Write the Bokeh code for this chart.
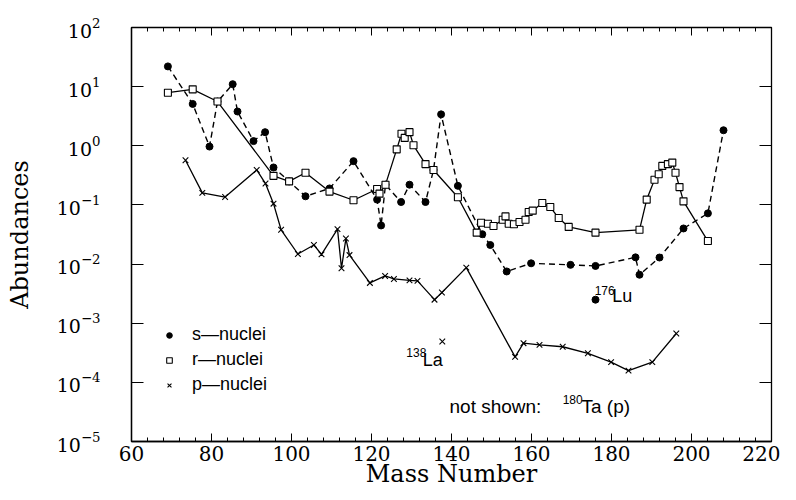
from bokeh.plotting import figure
from bokeh.models import (LinearAxis, LogAxis, Legend, LegendItem, Label,
                          FixedTicker, ColumnDataSource, CustomJSTickFormatter)
from bokeh.embed import file_html
from bokeh.resources import INLINE

# ---- data ----
s_mass = [69.1, 75.3, 79.5, 81.5, 85.3, 86.5, 90.5, 93.4, 95.5, 99.4, 103.5, 109.5,
          115.5, 121.4, 122.4, 123.5, 127.4, 129.5, 133.5, 135.5, 137.4, 141.6,
          147.7, 149.7, 153.8, 159.9, 169.75, 176, 186, 187, 192, 198, 204.1, 208]
s_abund = [22, 5.1, 0.97, 5.6, 11, 3.8, 1.2, 1.7, 0.43, 0.25, 0.14, 0.19,
           0.55, 0.123, 0.045, 0.22, 0.112, 0.22, 0.112, 0.39, 3.4, 0.21,
           0.032, 0.021, 0.0075, 0.0103, 0.0097, 0.0093, 0.013, 0.0066, 0.0129,
           0.04, 0.072, 1.83]

r_mass = [69.1, 75.3, 81.5, 95.5, 99.4, 103.5, 109.5, 115.5, 121.4, 122, 123.5,
          126.3, 127.5, 128.3, 129.5, 130.5, 133.5, 135.5, 141.6, 146.3, 147.4,
          149.1, 150.5, 152.8, 153.5, 154.3, 155.6, 157, 158.5, 159.3, 160.3,
          162.7, 164.7, 166.8, 169.3, 176, 187, 188.8, 190.75, 191.8, 192.7,
          194.1, 195.2, 196, 197, 198, 204.1]
r_abund = [7.9, 9.0, 5.6, 0.31, 0.25, 0.35, 0.168, 0.12, 0.186, 0.155, 0.22,
           0.87, 1.6, 1.36, 1.7, 1.02, 0.49, 0.39, 0.135, 0.034, 0.05,
           0.048, 0.044, 0.056, 0.064, 0.048, 0.047, 0.0515, 0.056, 0.076, 0.08,
           0.108, 0.092, 0.06, 0.0425, 0.034, 0.038, 0.123, 0.267, 0.33, 0.457,
           0.49, 0.52, 0.35, 0.2, 0.115, 0.0245]

p_mass = [73.5, 77.7, 83.4, 91.3, 93.5, 95.5, 97.4, 101.6, 105.6, 107.5, 111.5,
          112.5, 113.6, 114.5, 119.6, 123.4, 125.6, 129.5, 131.5, 135.75, 137.6,
          143.7, 155.9, 158, 162, 167.8, 174.1, 179.9, 184.25, 190.2, 196.2]
p_abund = [0.57, 0.16, 0.136, 0.39, 0.23, 0.105, 0.038, 0.0148, 0.021, 0.0146, 0.039,
           0.0085, 0.027, 0.0142, 0.0048, 0.0063, 0.0056, 0.0053, 0.0052, 0.0025, 0.0033,
           0.0087, 0.00027, 0.00046, 0.00043, 0.0004, 0.00031, 0.00022, 0.000158,
           0.00022, 0.00067]

lu_mass = [176]
lu_abund = [0.0025]
la_mass = [137.7]
la_abund = [0.00049]

x_ticks = [60, 80, 100, 120, 140, 160, 180, 200, 220]
x_minor = list(range(60, 221, 4))
y_ticks = [1e-5, 1e-4, 1e-3, 1e-2, 1e-1, 1e0, 1e1, 1e2]

legend_labels = ["s\u2014nuclei", "r\u2014nuclei", "p\u2014nuclei"]

SERIF = "DejaVu Serif"
SANS = "Liberation Sans"

p = figure(width=780, height=490, x_range=(60, 220), y_range=(1e-5, 1e2),
           y_axis_type="log", output_backend="svg", toolbar_location=None,
           min_border_left=131, min_border_right=9, min_border_top=27,
           min_border_bottom=44)
p.grid.visible = False
p.outline_line_color = "black"
p.outline_line_width = 1.3
p.background_fill_color = "white"
p.border_fill_color = "white"

# bottom axis
xa = p.xaxis[0]
xa.ticker = FixedTicker(ticks=x_ticks, minor_ticks=x_minor)
xa.major_tick_in = 8
xa.major_tick_out = 0
xa.minor_tick_in = 4
xa.minor_tick_out = 0
xa.major_label_text_font = SERIF
xa.major_label_text_font_size = "20px"
xa.major_label_text_color = "black"
xa.major_label_standoff = 4
xa.axis_label = "Mass Number"
xa.axis_label_text_font = SERIF
xa.axis_label_text_font_size = "24px"
xa.axis_label_text_color = "black"
xa.axis_label_text_font_style = "normal"
xa.axis_label_standoff = -4
xa.axis_line_width = 1.3

ya = p.yaxis[0]
ya.ticker = FixedTicker(ticks=y_ticks, minor_ticks=[])
ya.major_tick_in = 12
ya.major_tick_out = 0
ya.minor_tick_line_color = None
ya.major_label_text_font = SERIF
ya.major_label_text_font_size = "19px"
ya.major_label_text_color = "black"
ya.major_label_standoff = 31
ya.axis_label = "Abundances"
ya.axis_label_text_font = SERIF
ya.axis_label_text_font_size = "24px"
ya.axis_label_text_color = "black"
ya.axis_label_text_font_style = "normal"
ya.axis_label_standoff = 20
ya.axis_line_width = 1.3

top = LinearAxis(ticker=FixedTicker(ticks=x_ticks, minor_ticks=x_minor),
                 major_tick_in=8, major_tick_out=0, minor_tick_in=4, minor_tick_out=0,
                 formatter=CustomJSTickFormatter(code="return ''"), major_label_standoff=0)
p.add_layout(top, "above")
right = LogAxis(ticker=FixedTicker(ticks=y_ticks, minor_ticks=[]),
                major_tick_in=12, major_tick_out=0, minor_tick_line_color=None,
                formatter=CustomJSTickFormatter(code="return ''"), major_label_standoff=0)
p.add_layout(right, "right")

src_s = ColumnDataSource(dict(x=s_mass, y=s_abund))
src_r = ColumnDataSource(dict(x=r_mass, y=r_abund))
src_p = ColumnDataSource(dict(x=p_mass, y=p_abund))

p.line("x", "y", source=src_s, line_color="black", line_width=1.4, line_dash="6 4")
p.line("x", "y", source=src_r, line_color="black", line_width=1.3)
p.line("x", "y", source=src_p, line_color="black", line_width=1.3)

rs = p.scatter("x", "y", source=src_s, marker="circle", size=7, fill_color="black",
               line_color="black")
rr = p.scatter("x", "y", source=src_r, marker="square", size=7, fill_color="white",
               line_color="black", line_width=1.1)
rp = p.scatter("x", "y", source=src_p, marker="x", size=8, line_color="black",
               line_width=1.1)
p.scatter(lu_mass, lu_abund, marker="circle", size=7, fill_color="black", line_color="black")
p.scatter(la_mass, la_abund, marker="x", size=8, line_color="black", line_width=1.1)

legend = Legend(items=[LegendItem(label=legend_labels[0], renderers=[rs]),
                       LegendItem(label=legend_labels[1], renderers=[rr]),
                       LegendItem(label=legend_labels[2], renderers=[rp])],
                location=(31, 46), orientation="vertical",
                border_line_color=None, background_fill_alpha=0,
                padding=0, margin=0, spacing=4, glyph_width=14, glyph_height=20,
                label_height=20, label_standoff=16,
                label_text_font=SANS, label_text_font_size="18px",
                label_text_color="black")
p.add_layout(legend, "center")

def lab(x, y, t, size):
    p.add_layout(Label(x=x, y=y, text=t, text_font=SANS, text_font_size=size,
                       text_color="black", text_baseline="alphabetic"))

lab(128.7, 3.2e-4, "138", "12px")
lab(132.8, 2.35e-4, "La", "18px")
lab(175.8, 3.6e-3, "176", "12px")
lab(180.2, 2.9e-3, "Lu", "18px")
lab(139.5, 3.85e-5, "not shown:", "19px")
lab(167.8, 5.2e-5, "180", "12px")
lab(172.5, 3.85e-5, "Ta (p)", "19px")

open("out.html", "w").write(file_html(p, INLINE))
